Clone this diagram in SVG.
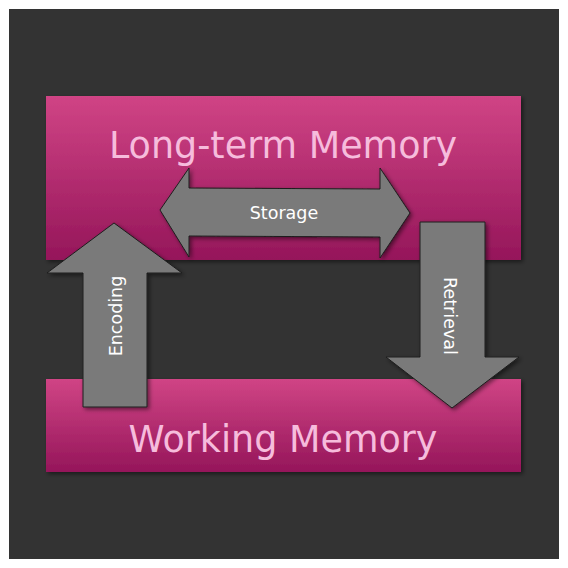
<svg xmlns="http://www.w3.org/2000/svg" width="568" height="568" viewBox="0 0 568 568">
<defs>
<linearGradient id="pink" x1="0" y1="0" x2="0" y2="1">
<stop offset="0" stop-color="#d04485"/>
<stop offset="1" stop-color="#95165a"/>
</linearGradient>
<filter id="sh" x="-10%" y="-10%" width="130%" height="130%">
<feDropShadow dx="2" dy="2" stdDeviation="2" flood-color="#000" flood-opacity="0.5"/>
</filter>
<style>
.box{fill:url(#pink);filter:url(#sh)}
.title{font-family:"DejaVu Sans",Verdana,sans-serif;font-size:36.5px;fill:#f6bcdc;text-anchor:middle}
.arrow{fill:#7a7a7a;stroke:#1e1e1e;stroke-width:1;filter:url(#sh)}
.lbl{font-family:"DejaVu Sans",Verdana,sans-serif;font-size:17.5px;fill:#ffffff;text-anchor:middle}
</style>
</defs>
<rect x="0" y="0" width="568" height="568" fill="#ffffff"/>
<rect x="9" y="9" width="550" height="550" fill="#333333"/>
<g id="ltm">
<rect class="box" x="46" y="96" width="475" height="164"/>
<text class="title" x="283" y="158">Long-term Memory</text>
</g>
<g id="wm">
<rect class="box" x="46" y="379" width="475" height="93"/>
<text class="title" x="283" y="452">Working Memory</text>
</g>
<g id="connectors">
<g id="storage">
<polygon class="arrow" points="160,210 189,168 189,188 380,189 380,168 410,213 380,258 380,237 189,236 189,257"/>
<text class="lbl" x="284" y="219">Storage</text>
</g>
<g id="encoding">
<polygon class="arrow" points="114,223 182,273 147,273 147,407 83,407 83,273 47,273"/>
<text class="lbl" transform="translate(122,316) rotate(-90)">Encoding</text>
</g>
<g id="retrieval">
<polygon class="arrow" points="420,222 485,222 485,357 519,357 452,408 386,357 420,357"/>
<text class="lbl" transform="translate(444,316) rotate(90)">Retrieval</text>
</g>
</g>
</svg>
